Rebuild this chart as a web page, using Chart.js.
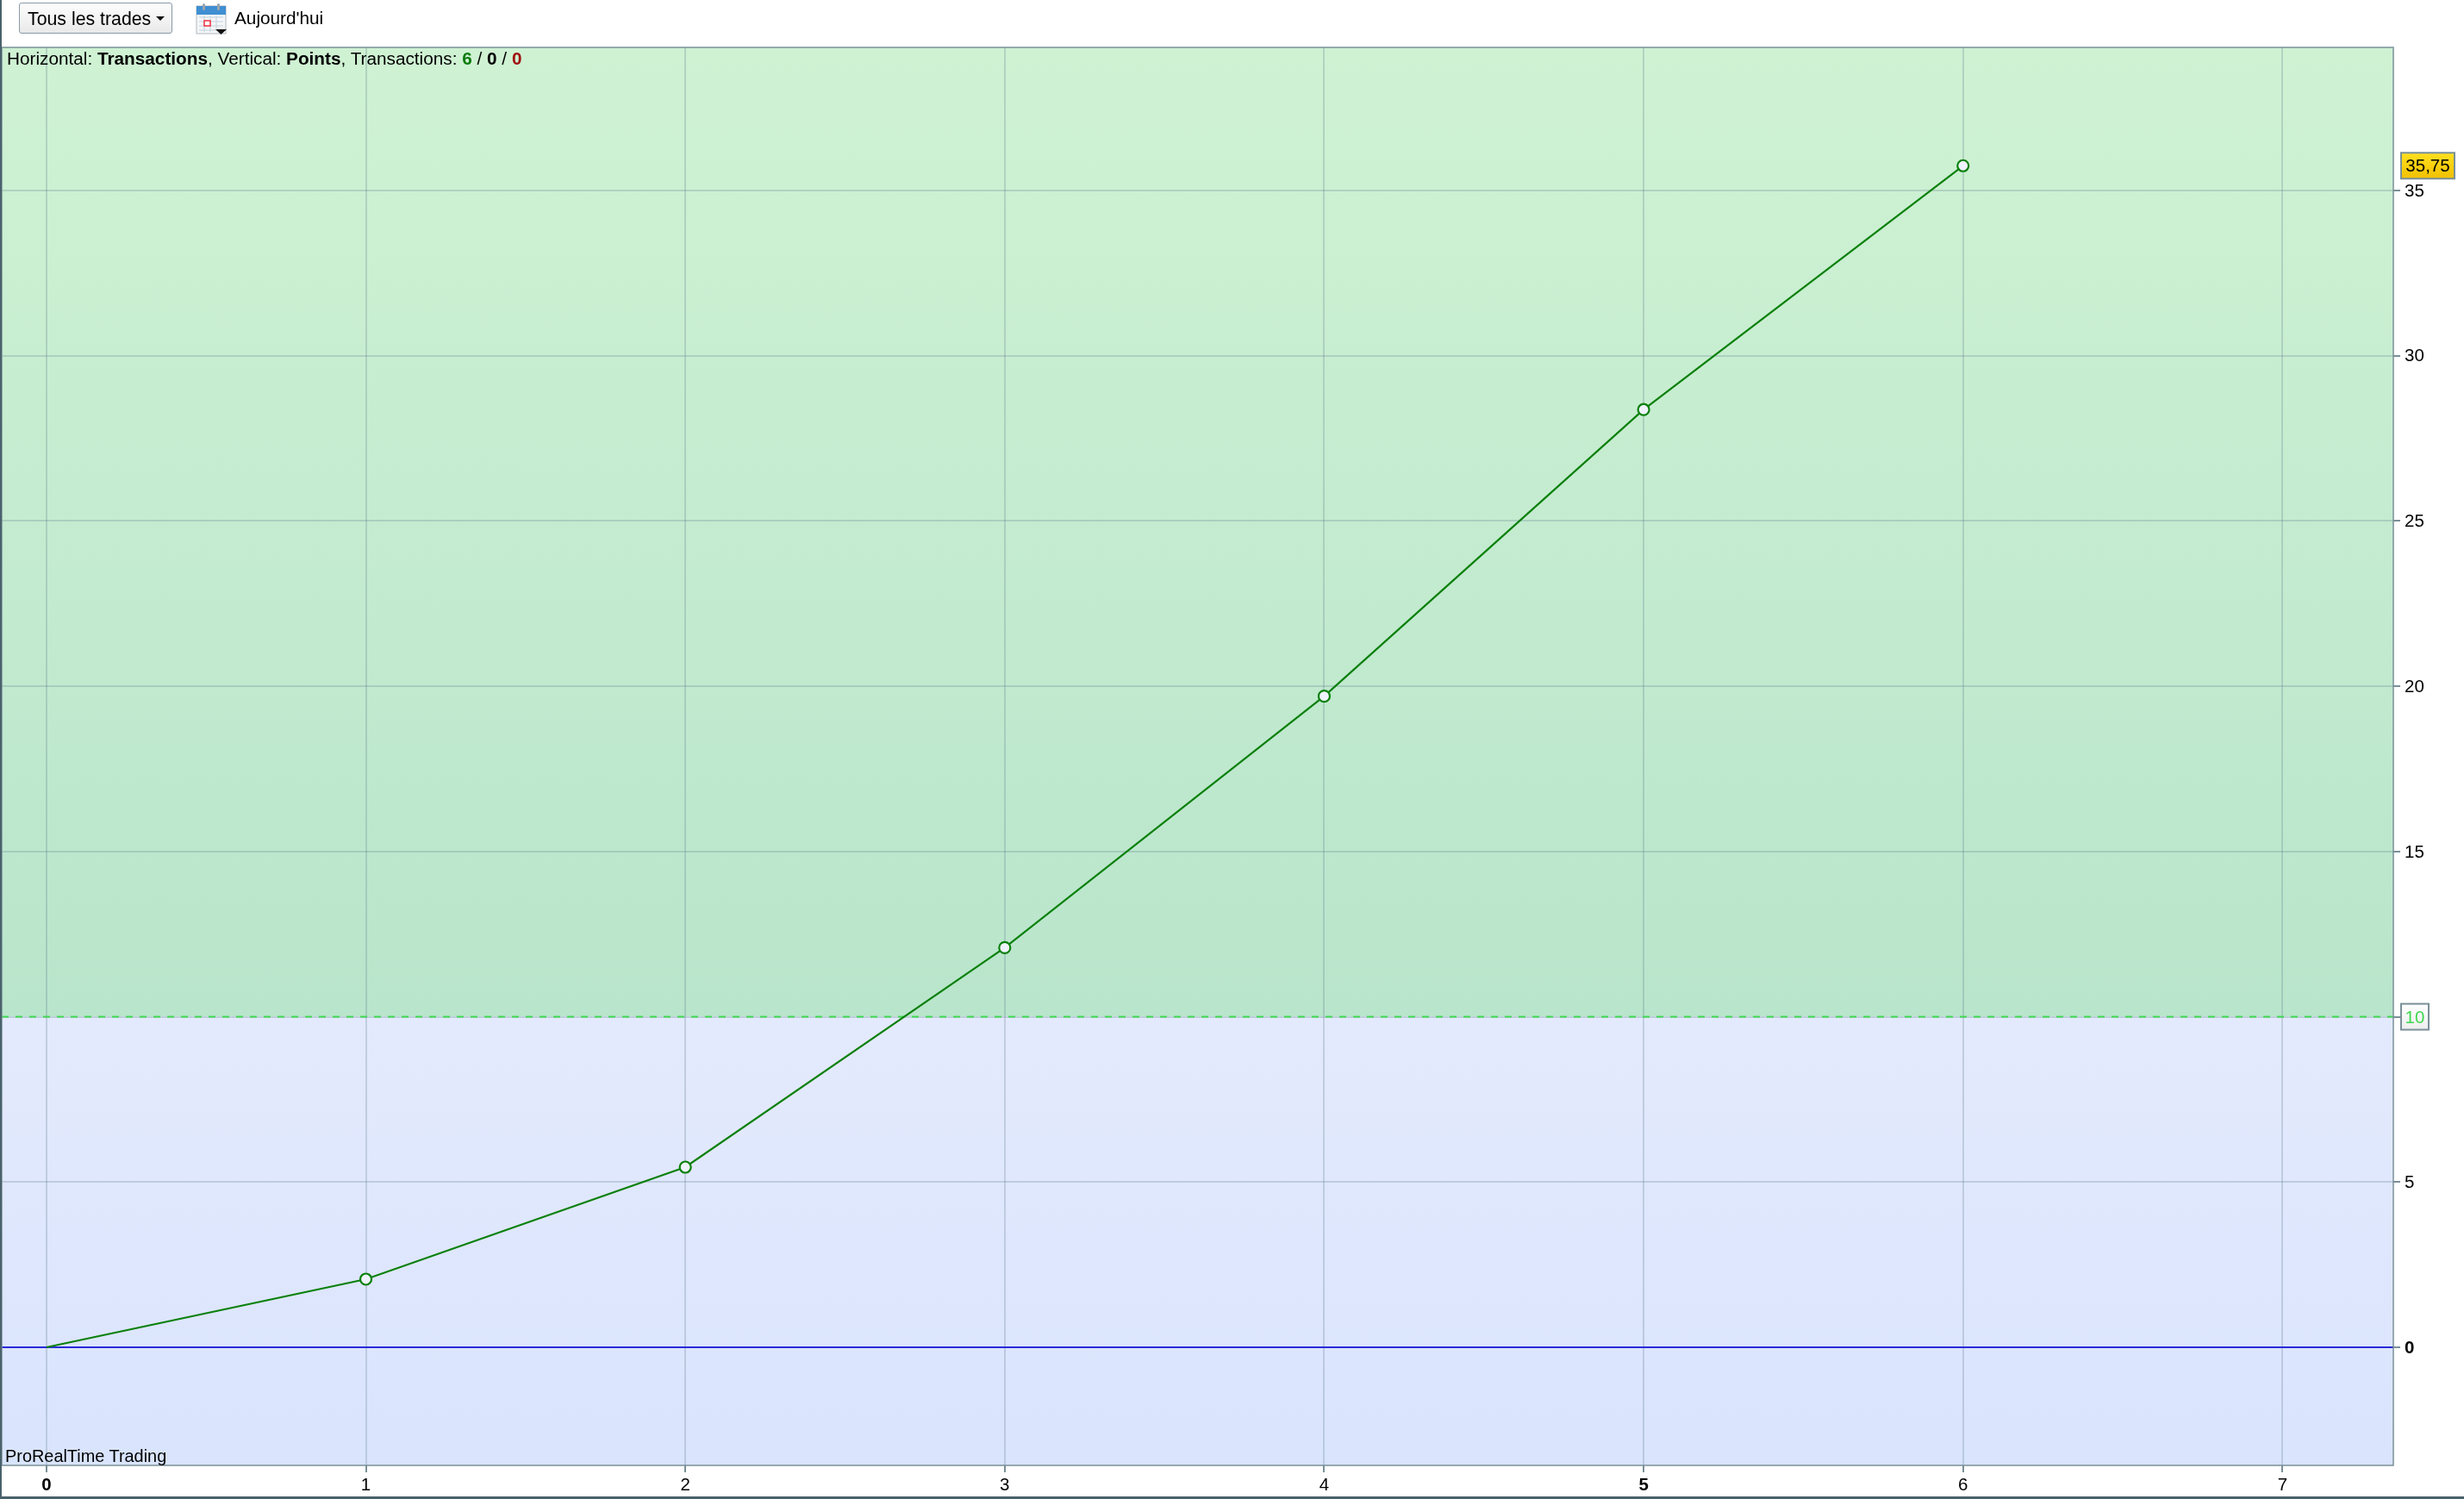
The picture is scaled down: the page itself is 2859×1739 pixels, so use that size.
<!DOCTYPE html>
<html lang="fr">
<head>
<meta charset="utf-8">
<title>Tous les trades</title>
<script src="https://cdn.jsdelivr.net/npm/chart.js@4"></script>
<style>
  html, body { margin: 0; padding: 0; background: #fff; overflow: hidden; }
  body { width: 2859px; height: 1739px; position: relative; font-family: "Liberation Sans", Arial, sans-serif; color: #000; }
  canvas { position: absolute; left: 0; top: 0; }
  .abs { position: absolute; white-space: nowrap; font-size: 20.75px; line-height: 24px; }
  #trades-btn {
    left: 22px; top: 3px; width: 178px; height: 36px; box-sizing: border-box;
    border: 1px solid #8a9aa6; border-radius: 3px;
    background: linear-gradient(#fdfdfd, #e9e9e9);
    padding: 6px 0 0 9px; font-size: 21.3px;
  }
  #trades-btn i { position: absolute; left: 158px; top: 15px; width: 0; height: 0;
    border-left: 5px solid transparent; border-right: 5px solid transparent; border-top: 5px solid #111; }
  #cal { position: absolute; left: 227px; top: 3px; }
  #today { left: 272px; top: 9px; }
  #info { left: 8px; top: 56px; }
  #brand { left: 6px; top: 1677px; font-size: 19.9px; }
  .win { color: #0a7a0a; font-weight: bold; }
  .loss { color: #a01010; font-weight: bold; }
</style>
</head>
<body>
<canvas id="equity" width="2859" height="1739"></canvas>
<div class="abs" id="trades-btn">Tous les trades<i></i></div>
<svg id="cal" width="37" height="38" viewBox="0 0 37 38">
  <rect x="1" y="4" width="34" height="32" fill="#f4f6f8" stroke="#b0b8c0"/>
  <rect x="1" y="4" width="34" height="10" fill="#3f8fd2"/>
  <rect x="8" y="1" width="3" height="8" rx="1.500" fill="#9aa4ac"/>
  <rect x="25" y="1" width="3" height="8" rx="1.500" fill="#9aa4ac"/>
  <path d="M4 17H32M4 22H32M4 27H32M4 32H24M10 15V34M17 15V34M24 15V30" stroke="#c4d2de" fill="none"/>
  <rect x="10" y="21" width="7" height="6" fill="#fff" stroke="#f03040" stroke-width="1.500"/>
  <path d="M23 31H36L29.500 37Z" fill="#111"/>
</svg>
<div class="abs" id="today">Aujourd'hui</div>
<div class="abs" id="info">Horizontal: <b>Transactions</b>, Vertical: <b>Points</b>, Transactions: <span class="win">6</span> / <b>0</b> / <span class="loss">0</span></div>
<div class="abs" id="brand">ProRealTime Trading</div>

<script>
// donnees
const xTicks = [0, 1, 2, 3, 4, 5, 6, 7];
const yTicks = [0, 5, 10, 15, 20, 25, 30, 35];
const trades = [0, 1, 2, 3, 4, 5, 6];
const points = [0, 2.06, 5.45, 12.09, 19.7, 28.37, 35.75];
const threshold = 10;
const boldX = [0, 5];
const boldY = [0];

const frameColor = '#7a9098';
const lineGreen = '#0a800a';
const gridColor = 'rgba(90,120,140,0.25)';

function boxLabel(ctx, x, y, w, h, text, top, bottom, color) {
  const g = ctx.createLinearGradient(0, y, 0, y + h);
  g.addColorStop(0, top);
  g.addColorStop(1, bottom);
  ctx.fillStyle = g;
  ctx.fillRect(x, y, w, h);
  ctx.strokeStyle = frameColor;
  ctx.lineWidth = 2;
  ctx.strokeRect(x, y, w, h);
  ctx.fillStyle = color;
  ctx.textAlign = 'center';
  ctx.textBaseline = 'middle';
  ctx.font = '20.5px "Liberation Sans"';
  ctx.fillText(text, x + w / 2, y + h / 2 + 1.5);
}

// fond vert / bleu de part et d'autre du seuil
const zones = {
  id: 'zones',
  beforeDraw(chart) {
    const { ctx, chartArea: a, scales } = chart;
    const yT = scales.y.getPixelForValue(threshold);
    let g = ctx.createLinearGradient(0, a.top, 0, yT);
    g.addColorStop(0, '#cff2d3');
    g.addColorStop(1, '#b9e5cc');
    ctx.fillStyle = g;
    ctx.fillRect(a.left, a.top, a.width, yT - a.top);
    g = ctx.createLinearGradient(0, yT, 0, a.bottom);
    g.addColorStop(0, '#e4eafd');
    g.addColorStop(1, '#d9e4fd');
    ctx.fillStyle = g;
    ctx.fillRect(a.left, yT, a.width, a.bottom - yT);
  },
  beforeDatasetsDraw(chart) {
    const { ctx, chartArea: a, scales } = chart;
    const yT = scales.y.getPixelForValue(threshold);
    ctx.save();
    ctx.strokeStyle = '#40d850';
    ctx.lineWidth = 2;
    ctx.setLineDash([8, 8]);
    ctx.beginPath();
    ctx.moveTo(a.left, yT);
    ctx.lineTo(a.right, yT);
    ctx.stroke();
    ctx.restore();
  },
  afterDraw(chart) {
    const { ctx, chartArea: a, scales } = chart;
    ctx.save();
    ctx.strokeStyle = frameColor;
    ctx.lineWidth = 1.5;
    ctx.strokeRect(a.left, a.top, a.width, a.height);
    // cadre sombre de la fenetre
    ctx.fillStyle = '#4a626c';
    ctx.fillRect(0, 0, 2, chart.height);
    ctx.fillRect(0, chart.height - 3, chart.width, 3);

    const last = points[points.length - 1];
    const yL = scales.y.getPixelForValue(last);
    boxLabel(ctx, 2786, yL - 15, 62, 30, last.toFixed(2).replace('.', ','), '#ffe020', '#f0c000', '#000');
    const yT = scales.y.getPixelForValue(threshold);
    boxLabel(ctx, 2786, yT - 15, 32, 30, String(threshold), '#ffffff', '#eeeeee', '#40d850');
    ctx.restore();
  }
};

Chart.defaults.font.family = '"Liberation Sans", Arial, sans-serif';
Chart.defaults.font.size = 20.5;
Chart.defaults.color = '#000';

new Chart(document.getElementById('equity'), {
  type: 'line',
  data: {
    labels: trades,
    datasets: [{
      data: trades.map((t, i) => ({ x: t, y: points[i] })),
      borderColor: lineGreen,
      borderWidth: 2.2,
      tension: 0,
      pointRadius: ctx => ctx.dataIndex === 0 ? 0 : 6.5,
      pointBorderWidth: 2.2,
      pointBorderColor: lineGreen,
      pointBackgroundColor: '#eef3fe'
    }]
  },
  options: {
    responsive: false,
    animation: false,
    devicePixelRatio: 1,
    layout: { autoPadding: false, padding: { left: 2, top: 55, right: 0, bottom: 0 } },
    plugins: { legend: { display: false }, tooltip: { enabled: false } },
    scales: {
      x: {
        type: 'linear',
        min: -0.14,
        max: 7.347,
        afterBuildTicks: s => { s.ticks = xTicks.map(v => ({ value: v })); },
        afterFit: s => { s.height = 39; },
        grid: { color: gridColor, lineWidth: 2, tickColor: frameColor, tickLength: 8 },
        border: { display: false },
        ticks: {
          padding: 3,
          maxRotation: 0,
          autoSkip: false,
          callback: v => String(v),
          font: c => ({ size: 20.5, weight: c.tick && boldX.includes(c.tick.value) ? 'bold' : 'normal' })
        }
      },
      y: {
        type: 'linear',
        position: 'right',
        min: -3.574,
        max: 39.33,
        afterBuildTicks: s => { s.ticks = yTicks.map(v => ({ value: v })); },
        afterFit: s => { s.width = 82; },
        grid: {
          color: c => c.tick && c.tick.value === 0 ? '#2a2ad8' : gridColor,
          lineWidth: 2,
          tickColor: frameColor,
          tickLength: 8
        },
        border: { display: false },
        ticks: {
          padding: 5,
          labelOffset: 1,
          autoSkip: false,
          callback: v => v === threshold ? '' : String(v),
          font: c => ({ size: 20.5, weight: c.tick && boldY.includes(c.tick.value) ? 'bold' : 'normal' })
        }
      }
    }
  },
  plugins: [zones]
});
</script>
</body>
</html>
